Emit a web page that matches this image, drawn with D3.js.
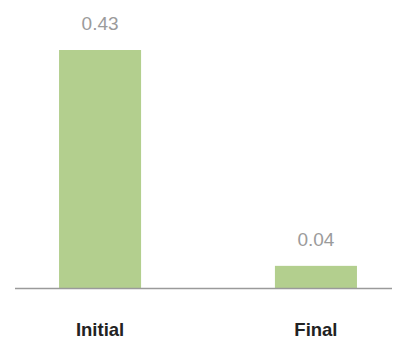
<!DOCTYPE html>
<html>
<head>
<meta charset="utf-8">
<script src="https://cdn.jsdelivr.net/npm/d3@7"></script>
<style>
  html, body { margin: 0; padding: 0; background: #fff; }
  svg { display: block; font-family: "Liberation Sans", Arial, Helvetica, sans-serif; }
</style>
</head>
<body>
<svg id="chart" width="393" height="341"></svg>
<script>
// Chart data
const categories = ["Initial", "Final"];
const values = [0.43, 0.04];
const valueLabels = ["0.43", "0.04"];

const svg = d3.select("#chart");
const baseY = 288;

const x = d3.scaleBand()
  .domain(categories)
  .range([15, 401])
  .paddingInner(0.62)
  .paddingOuter(0.204);

const y = d3.scaleLinear()
  .domain([0, 0.43])
  .range([baseY, 50]);

// bars
svg.selectAll("rect.bar")
  .data(values)
  .join("rect")
  .attr("class", "bar")
  .attr("x", (d, i) => x(categories[i]))
  .attr("width", x.bandwidth())
  .attr("y", d => y(d))
  .attr("height", d => baseY - y(d))
  .attr("fill", "#b3cf8e");

// baseline
svg.append("line")
  .attr("x1", 15).attr("x2", 392)
  .attr("y1", baseY + 0.5).attr("y2", baseY + 0.5)
  .attr("stroke", "#9a9a9a")
  .attr("stroke-width", 1.5);

// value labels
svg.selectAll("text.value")
  .data(values)
  .join("text")
  .attr("class", "value")
  .attr("x", (d, i) => x(categories[i]) + x.bandwidth() / 2)
  .attr("y", d => y(d) - 20)
  .attr("text-anchor", "middle")
  .attr("font-size", 19)
  .attr("fill", "#9b9b9b")
  .text((d, i) => valueLabels[i]);

// category labels
svg.selectAll("text.cat")
  .data(categories)
  .join("text")
  .attr("class", "cat")
  .attr("x", d => x(d) + x.bandwidth() / 2)
  .attr("y", 336)
  .attr("text-anchor", "middle")
  .attr("font-size", 18.5)
  .attr("font-weight", "bold")
  .attr("fill", "#222")
  .text(d => d);
</script>
</body>
</html>
